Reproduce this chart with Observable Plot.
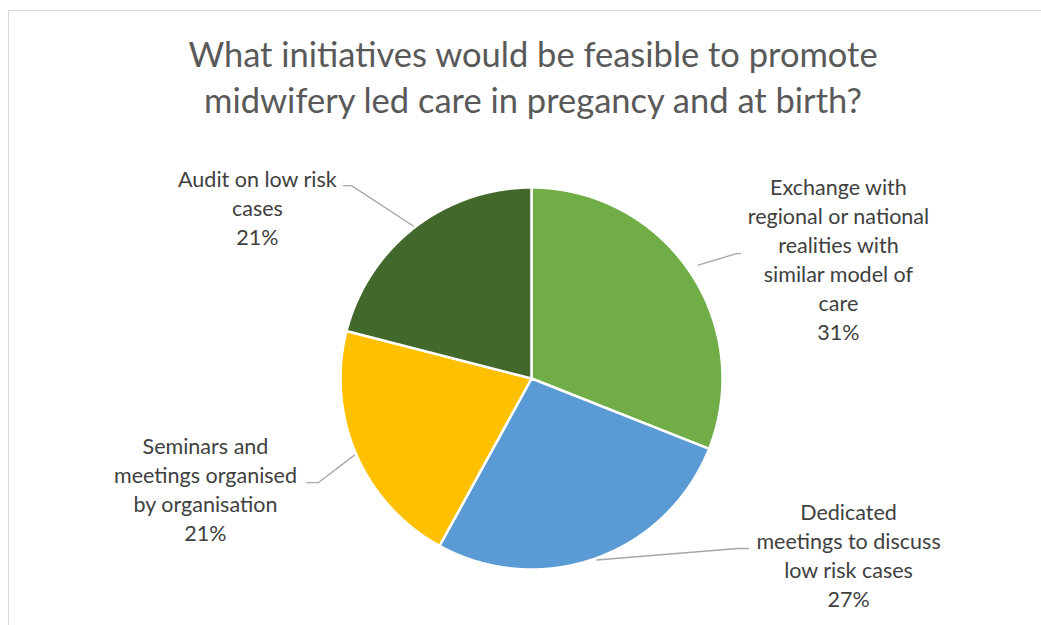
<!DOCTYPE html>
<html><head><meta charset="utf-8">
<script src="https://cdn.jsdelivr.net/npm/d3@7"></script>
<script src="https://cdn.jsdelivr.net/npm/@observablehq/plot@0.6"></script>
<style>
body{margin:0;width:1041px;height:625px;overflow:hidden;background:#fff;position:relative;font-family:Lato,sans-serif}
#title{position:absolute;left:0;top:31px;width:1041px;padding-left:25px;box-sizing:border-box;text-align:center;font-size:34.5px;line-height:46px;color:#595959;font-family:Lato,sans-serif}
#chart{position:absolute;left:0;top:140px}
#frame{position:absolute;left:8px;top:10px;width:1100px;height:700px;border:1px solid #d9d9d9;box-sizing:border-box;pointer-events:none}
</style>
</head><body>
<div id="title">What initiatives would be feasible to promote<br>midwifery led care in pregancy and at birth?</div>
<div id="chart"></div>
<div id="frame"></div>
<script>
// ---- data ----
const categories = [
  "Exchange with regional or national realities with similar model of care",
  "Dedicated meetings to discuss low risk cases",
  "Seminars and meetings organised by organisation",
  "Audit on low risk cases"
];
const labelLines = [
  ["Exchange with", "regional or national", "realities with", "similar model of", "care"],
  ["Dedicated", "meetings to discuss", "low risk cases"],
  ["Seminars and", "meetings organised", "by organisation"],
  ["Audit on low risk", "cases"]
];
const percents = [31, 27, 21, 21];
const colors = ["#70AD47", "#5B9BD5", "#FFC000", "#43682B"];

// ---- layout (in units of pie radius, relative to pie centre) ----
const R = 191, CX = 531, CY = 238, W = 1041, H = 485;
const labelPos = [[1.607, 0.631], [1.660, -0.919], [-1.707, -0.576], [-1.435, 0.898]];
const leaderElbow = [[1.073, 0.654, 1.094], [1.079, -0.890, 1.136], [-1.115, -0.545, -1.178], [-0.942, 1.010, -0.984]];
const leaderStart = [1.055, 1.01, 1.01, 1.01];

// ---- derived geometry ----
const total = d3.sum(percents);
let acc = 0;
const slices = percents.map((v, i) => {
  const a0 = acc / total * 2 * Math.PI; acc += v;
  const a1 = acc / total * 2 * Math.PI;
  return {cat: categories[i], a0, a1, mid: (a0 + a1) / 2};
});
const piePts = slices.flatMap(s => {
  const pts = [{cat: s.cat, x: 0, y: 0}];
  const n = Math.ceil((s.a1 - s.a0) / (Math.PI / 720));
  for (let k = 0; k <= n; k++) {
    const a = s.a0 + (s.a1 - s.a0) * k / n;
    pts.push({cat: s.cat, x: Math.sin(a), y: Math.cos(a)});
  }
  pts.push({cat: s.cat, x: 0, y: 0});
  return pts;
});
const leaderPts = slices.flatMap((s, i) => [
  {cat: s.cat, x: leaderStart[i] * Math.sin(s.mid), y: leaderStart[i] * Math.cos(s.mid)},
  {cat: s.cat, x: leaderElbow[i][0], y: leaderElbow[i][1]},
  {cat: s.cat, x: leaderElbow[i][2], y: leaderElbow[i][1]}
]);
const labels = slices.map((s, i) => ({
  text: labelLines[i].join("\n") + "\n" + percents[i] + "%",
  x: labelPos[i][0], y: labelPos[i][1]
}));

const chart = Plot.plot({
  width: W, height: H, margin: 0,
  x: {domain: [-CX / R, (W - CX) / R], axis: null},
  y: {domain: [-(H - CY) / R, CY / R], axis: null},
  color: {domain: categories, range: colors},
  style: {fontFamily: "Lato, sans-serif", background: "transparent", overflow: "visible"},
  marks: [
    Plot.line(piePts, {x: "x", y: "y", z: "cat", fill: "cat", stroke: "#ffffff", strokeWidth: 2.5, strokeLinejoin: "round"}),
    Plot.line(leaderPts, {x: "x", y: "y", z: "cat", stroke: "#a6a6a6", strokeWidth: 1.3}),
    Plot.text(labels, {x: "x", y: "y", text: "text", fontSize: 21.5, lineHeight: 29 / 21.5, fill: "#404040", textAnchor: "middle", lineAnchor: "middle"})
  ]
});
document.getElementById("chart").appendChild(chart);
</script>
</body></html>
